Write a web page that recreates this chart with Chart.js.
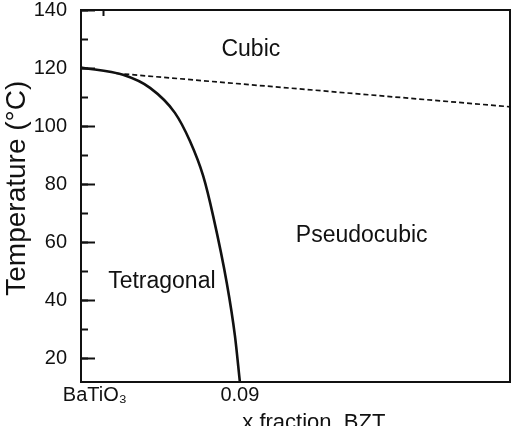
<!DOCTYPE html>
<html><head><meta charset="utf-8">
<script src="https://cdn.jsdelivr.net/npm/chart.js@4.4.1/dist/chart.umd.min.js"></script>
<style>html,body{margin:0;padding:0;overflow:hidden;background:#fff;width:518px;height:426px}</style>
</head><body>
<canvas id="c" width="518" height="440"></canvas>
<script>
// Phase boundary Tetragonal -> Pseudocubic/Cubic (solid)
const boundaryX = [0, 0.0238, 0.0391, 0.0532, 0.0617, 0.0692, 0.0749, 0.0826, 0.0872, 0.0900];
const boundaryY = [120.2, 117.7, 113.2, 104.6, 94.9, 82.9, 69.0, 46.0, 27.9, 12.0];
// Cubic / Pseudocubic boundary (dashed)
const cubicLineX = [0.020, 0.243];
const cubicLineY = [118.2, 106.7];
// Axis ticks
const xTickValues = [0, 0.09];
const xTickLabels = ['BaTiO\u2083', '0.09'];
const yMajorTicks = [20, 40, 60, 80, 100, 120, 140];
const yMinorTicks = [20, 30, 40, 50, 60, 70, 80, 90, 100, 110, 120, 130, 140];
const xTopTicks = [0.0125];
// Region names and their anchor (data units)
const regionNames = ['Cubic', 'Pseudocubic', 'Tetragonal'];
const regionX = [0.0962, 0.159, 0.0458];
const regionY = [126.3, 62.5, 46.4];

const X_MIN = 0, X_MAX = 0.243, Y_MIN = 12, Y_MAX = 140;
const FONT = '"Liberation Sans", Arial, sans-serif';
const INK = '#111';

const toPts = (xs, ys) => xs.map((x, i) => ({x, y: ys[i]}));
const setTicks = vals => scale => { scale.ticks = vals.map(v => ({value: v})); };
const zeroFit = dim => scale => {
  scale[dim] = 0;
  scale.paddingTop = scale.paddingBottom = scale.paddingLeft = scale.paddingRight = 0;
};

const regionLabels = {
  id: 'regionLabels',
  afterDatasetsDraw(chart) {
    const {ctx, scales: {x, y}} = chart;
    ctx.save();
    ctx.fillStyle = INK;
    ctx.font = '23px ' + FONT;
    ctx.textAlign = 'center';
    ctx.textBaseline = 'middle';
    regionNames.forEach((t, i) => ctx.fillText(t, x.getPixelForValue(regionX[i]), y.getPixelForValue(regionY[i])));
    ctx.restore();
  }
};

new Chart(document.getElementById('c'), {
  type: 'line',
  data: { datasets: [
    { data: toPts(boundaryX, boundaryY), borderColor: INK, borderWidth: 2.6, pointRadius: 0,
      cubicInterpolationMode: 'monotone', fill: false, xAxisID: 'x', yAxisID: 'y' },
    { data: toPts(cubicLineX, cubicLineY), borderColor: INK, borderWidth: 1.7, borderDash: [5, 3],
      pointRadius: 0, fill: false, xAxisID: 'x', yAxisID: 'y' }
  ]},
  plugins: [regionLabels],
  options: {
    responsive: false, animation: false, devicePixelRatio: 1,
    layout: { padding: { left: 0, top: 10, right: 8, bottom: 3.6 } },
    plugins: { legend: { display: false }, tooltip: { enabled: false } },
    scales: {
      x: { type: 'linear', position: 'bottom', min: X_MIN, max: X_MAX,
        afterBuildTicks: setTicks(xTickValues),
        grid: { display: false, drawTicks: false },
        border: { display: true, color: INK, width: 2 },
        ticks: { padding: 1, color: INK, font: { family: FONT, size: 20 }, maxRotation: 0, autoSkip: false,
          callback: (v, i) => (i === 0 ? '     ' : '') + xTickLabels[i] },
        title: { display: true, text: '      x fraction, BZT', color: INK,
          font: { family: FONT, size: 22 }, padding: { top: 2, bottom: 0 } }
      },
      y: { type: 'linear', position: 'left', weight: 1, min: Y_MIN, max: Y_MAX,
        afterBuildTicks: setTicks(yMajorTicks),
        afterFit: s => { s.width = 81; s.paddingTop = 0; s.paddingBottom = 0; },
        grid: { drawOnChartArea: false, drawTicks: true, tickLength: -14, tickWidth: 2, tickColor: INK },
        border: { display: true, color: INK, width: 2 },
        ticks: { padding: 28, color: INK, font: { family: FONT, size: 20 }, autoSkip: false },
        title: { display: true, text: '  Temperature (\u00B0C)', color: INK,
          font: { family: FONT, size: 28 }, padding: { top: 0, bottom: 0 } }
      },
      yMinor: { axis: 'y', type: 'linear', position: 'left', weight: 0, min: Y_MIN, max: Y_MAX,
        afterBuildTicks: setTicks(yMinorTicks),
        afterFit: zeroFit('width'),
        grid: { drawOnChartArea: false, drawTicks: true, tickLength: -7, tickWidth: 2, tickColor: INK },
        border: { display: false },
        ticks: { display: false }
      },
      yRight: { axis: 'y', type: 'linear', position: 'right', min: Y_MIN, max: Y_MAX,
        afterFit: zeroFit('width'),
        grid: { display: false, drawTicks: false },
        ticks: { display: false },
        border: { display: true, color: INK, width: 2 }
      },
      xTop: { axis: 'x', type: 'linear', position: 'top', min: X_MIN, max: X_MAX,
        afterBuildTicks: setTicks(xTopTicks),
        afterFit: zeroFit('height'),
        grid: { drawOnChartArea: false, drawTicks: true, tickLength: -6, tickWidth: 2, tickColor: INK },
        ticks: { display: false },
        border: { display: true, color: INK, width: 2 }
      }
    }
  }
});
</script>
</body></html>
